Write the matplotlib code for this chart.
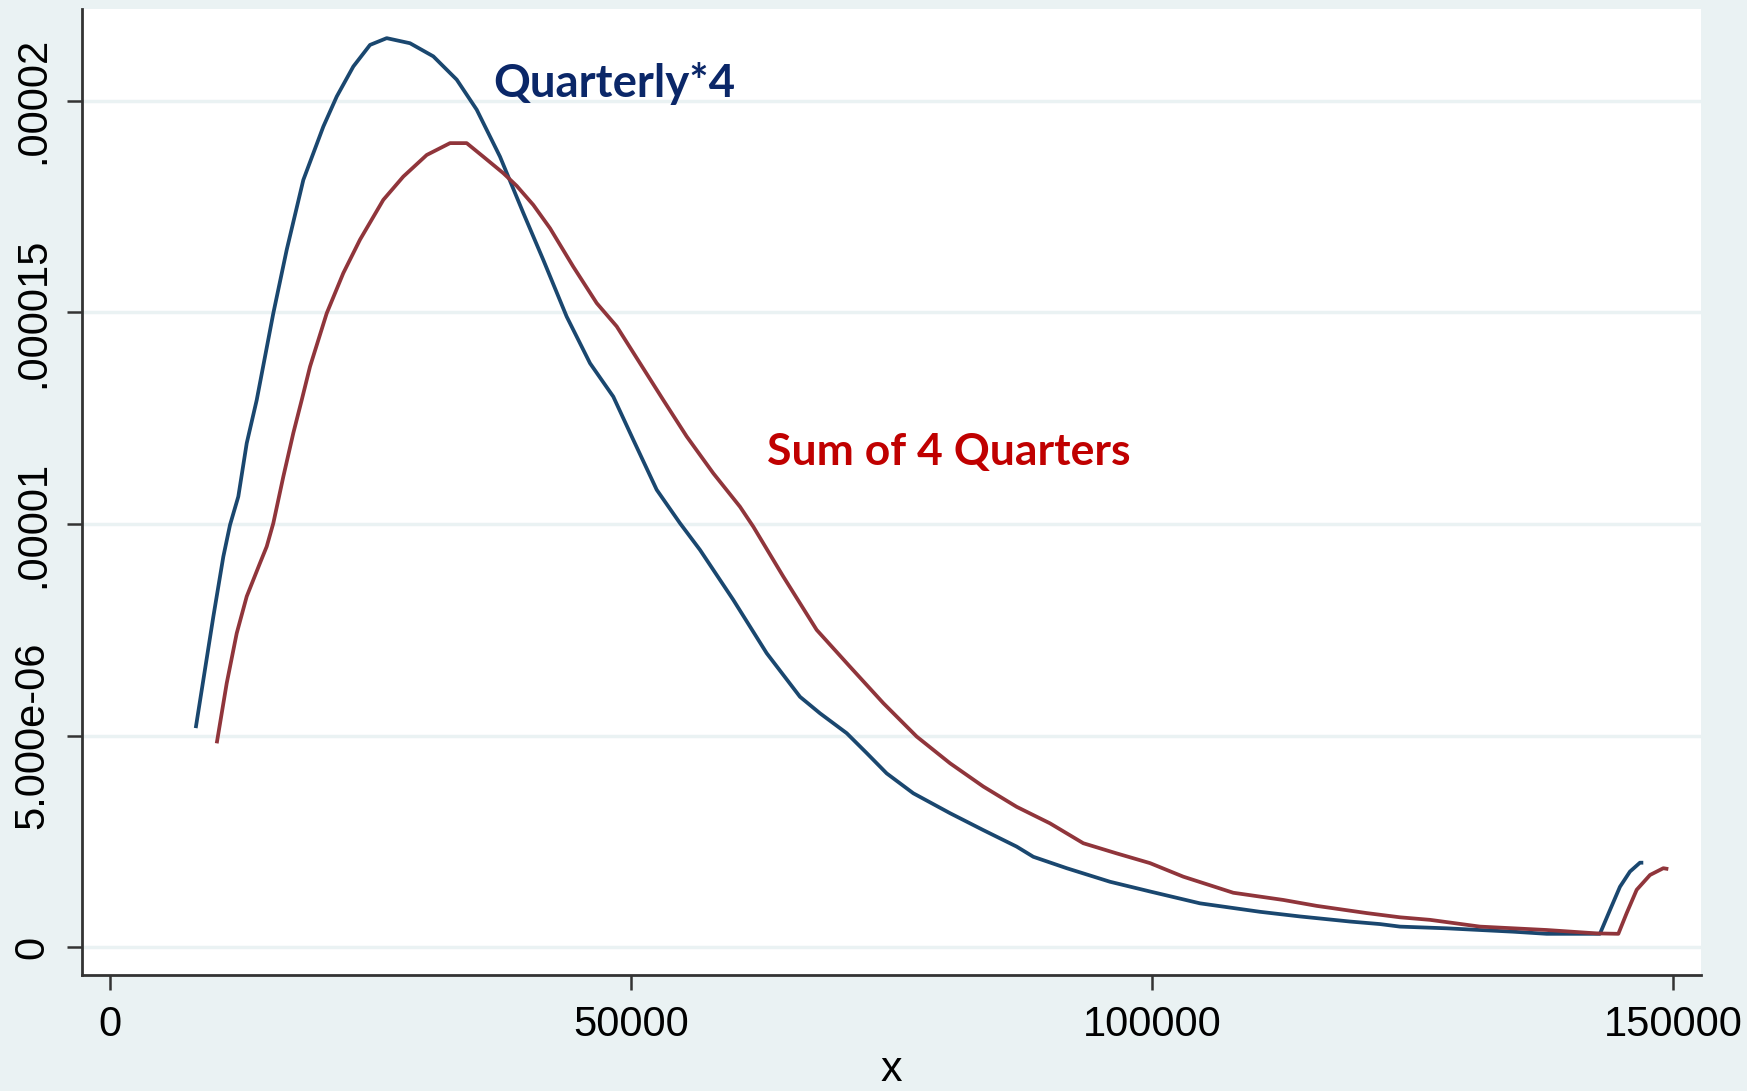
import matplotlib
matplotlib.use("Agg")
import matplotlib.pyplot as plt
from matplotlib.patches import Rectangle

# Quarterly*4 density (blue)
quarterly_x = [8234, 9923, 10883, 11526, 12322, 13129, 14088, 15681, 16967, 18561,
               20480, 21766, 23359, 24962, 26564, 28801, 31037, 33283, 35202, 37438,
               39674, 41594, 43839, 46076, 48312, 50231, 52477, 54713, 56632, 59825,
               63030, 66228, 68147, 70710, 72630, 74549, 77105, 80625, 83820, 87026,
               88619, 91825, 95980, 99820, 104618, 110377, 114216, 119014, 121893, 123813,
               128290, 134686, 137891, 143000, 143963, 144922, 145882, 146842, 147162]
quarterly_y = [5.18, 7.81, 9.23, 9.98, 10.65, 11.91, 12.93, 14.98, 16.48, 18.13,
               19.39, 20.10, 20.81, 21.32, 21.48, 21.36, 21.05, 20.50, 19.79, 18.68,
               17.35, 16.24, 14.90, 13.80, 13.01, 11.99, 10.81, 10.02, 9.39, 8.21,
               6.95, 5.92, 5.53, 5.06, 4.59, 4.11, 3.64, 3.17, 2.77, 2.38,
               2.14, 1.87, 1.55, 1.32, 1.04, 0.84, 0.73, 0.61, 0.55, 0.49,
               0.45, 0.37, 0.32, 0.32, 0.88, 1.43, 1.79, 2.00, 2.00]

# Sum of 4 Quarters density (red)
sum4_x = [10250, 11209, 12169, 13129, 14405, 15048, 15681, 16641, 17601, 18407,
          19204, 20806, 22400, 24002, 26238, 28158, 30404, 32640, 34242, 35835,
          37755, 39040, 40633, 42236, 44472, 46719, 48638, 50874, 53110, 55355,
          57908, 60470, 61745, 64625, 67830, 71029, 74224, 77429, 80625, 83820,
          87026, 90222, 93418, 96622, 99820, 103015, 107813, 112612, 115816, 120615,
          123813, 126692, 131490, 137891, 142690, 144768, 145570, 146530, 147809, 149085, 149565]
sum4_y = [4.82, 6.24, 7.42, 8.29, 9.08, 9.47, 10.02, 11.12, 12.15, 12.93,
          13.72, 14.98, 15.93, 16.72, 17.66, 18.21, 18.72, 19.00, 19.00, 18.68,
          18.29, 17.99, 17.54, 16.99, 16.08, 15.22, 14.67, 13.80, 12.93, 12.07,
          11.20, 10.41, 9.94, 8.76, 7.50, 6.63, 5.77, 4.98, 4.35, 3.80,
          3.32, 2.93, 2.46, 2.22, 1.99, 1.67, 1.29, 1.12, 0.98, 0.81,
          0.71, 0.65, 0.49, 0.41, 0.33, 0.32, 0.81, 1.36, 1.71, 1.87, 1.85]

x_ticks = [0, 50000, 100000, 150000]
x_tick_labels = ["0", "50000", "100000", "150000"]
y_ticks = [0, 5e-6, 1e-5, 1.5e-5, 2e-5]
y_tick_labels = ["0", "5.000e-06", ".00001", ".000015", ".00002"]

BG = "#EAF2F3"
BLUE = "#1A476F"
RED = "#90353B"

fig = plt.figure(figsize=(17.58, 10.91), dpi=100, facecolor=BG)
fig.patches.append(Rectangle((1747 / 1758, 0), 11 / 1758, 1, transform=fig.transFigure,
                             facecolor="white", edgecolor="none", zorder=-1))
ax = fig.add_axes([0.0466, 0.1059, 0.9675 - 0.0466, 0.9918 - 0.1059])
ax.set_facecolor("white")

ax.plot(quarterly_x, [v * 1e-6 for v in quarterly_y], color=BLUE, lw=2.7,
        solid_joinstyle="round", solid_capstyle="butt", zorder=3)
ax.plot(sum4_x, [v * 1e-6 for v in sum4_y], color=RED, lw=2.7,
        solid_joinstyle="round", solid_capstyle="butt", zorder=3)

ax.set_xlim(-2687, 152689)
ax.set_ylim(-0.664e-6, 22.17e-6)

ax.set_xticks(x_ticks)
ax.set_xticklabels(x_tick_labels)
ax.set_yticks(y_ticks)
ax.set_yticklabels(y_tick_labels, rotation=90, va="center")

for t in ax.get_xticklabels() + ax.get_yticklabels():
    t.set_fontfamily("Liberation Sans")
    t.set_fontsize(30)
    t.set_color("black")

ax.tick_params(axis="both", direction="out", length=11, width=1.8, color="#333333", pad=10)
ax.grid(axis="y", color=BG, lw=2.5, zorder=0)
ax.set_axisbelow(True)

for side in ["top", "right"]:
    ax.spines[side].set_visible(False)
for side in ["left", "bottom"]:
    ax.spines[side].set_color("#333333")
    ax.spines[side].set_linewidth(2)

ax.set_xlabel("x", family="Liberation Sans", fontsize=31, labelpad=4)

ax.text(36766, 20.08e-6, "Quarterly*4", color="#0B2768", fontsize=32.8, fontweight="bold",
        family="Lato", va="baseline", ha="left")
ax.text(63070, 11.39e-6, "Sum of 4 Quarters", color="#C00000", fontsize=32, fontweight="bold",
        family="Lato", va="baseline", ha="left")

fig.savefig("out.png", dpi=100, facecolor=BG)
